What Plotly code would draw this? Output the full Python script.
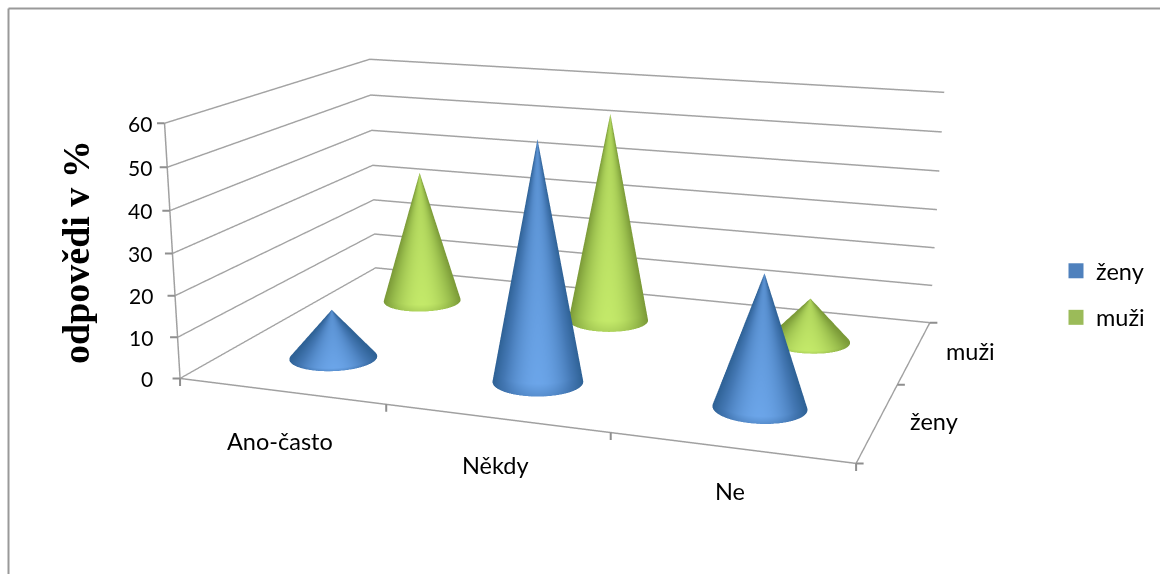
import numpy as np
import plotly.graph_objects as go

W, H = 1160, 574

categories = ["Ano-často", "Někdy", "Ne"]
series_names = ["ženy", "muži"]
zeny = [12, 57, 31]
muzi = [35, 54, 11]
z_ticks = [0, 10, 20, 30, 40, 50, 60]

# Scene camera and box proportions
EYE = np.array([0.8448, -2.4323, 0.6375])
CENTER = [0.0241, -0.0481, -0.0747]
UP = [-0.0240, 0.0545, 1.0]
ASPECT = np.array([1.0, 0.6633, 0.3801])
FOVY = 0.3273

BLUE = [[0, "#2f6296"], [.4, "#4478b4"], [1, "#6ca6ea"]]
GREEN = [[0, "#7b9a38"], [.4, "#98bc4c"], [1, "#c4ea6a"]]
GRID = "#a3a3a3"
TICK = "#8f8f8f"


def cone_trace(cx, cy, value, rx, ry, colors):
    th = np.linspace(0, 2 * np.pi, 181)
    t = np.linspace(0, 1, 41)
    T, Q = np.meshgrid(t, th, indexing="ij")
    X = cx + rx * (1 - T) * np.cos(Q)
    Y = cy + ry * (1 - T) * np.sin(Q)
    Z = value * T
    # shade by how directly each facet faces the viewer, dimmer at the rim and near the tip
    centre = (np.array([cx, cy, 0]) / np.array([3, 2, 60]) - .5) * ASPECT
    az = np.arctan2((EYE - centre)[1] / ASPECT[1] * 2, (EYE - centre)[0] / ASPECT[0] * 3)
    shade = np.clip(np.cos(Q - az), 0, 1) ** 2
    shade = shade * (0.7 + 0.3 * np.clip(T / 0.05, 0, 1)) * (1 - 0.3 * T)
    return go.Surface(x=X, y=Y, z=Z, surfacecolor=shade, cmin=0, cmax=1, colorscale=colors, showscale=False,
                      hoverinfo="skip", lighting=dict(ambient=1, diffuse=0, specular=0, fresnel=0, roughness=1))


fig = go.Figure()
for i in range(3):
    fig.add_trace(cone_trace(i + .5, 1.5, muzi[i], .195, .2, GREEN))
for i in range(3):
    fig.add_trace(cone_trace(i + .5, .5, zeny[i], .2, .2, BLUE))
for name, col in zip(series_names, ["#4f81bd", "#9bbb59"]):
    fig.add_trace(go.Scatter(x=[None], y=[None], mode="markers", name=name, legendgroup=name,
                             marker=dict(symbol="square", size=15, color=col)))

LABEL = dict(family="Lato", size=23.5, color="black")
DIGIT = dict(family="Lato", size=21, color="black")


def tick(x, y, z, ax, ay):
    return dict(x=x, y=y, z=z, text="", showarrow=True, arrowhead=0, arrowwidth=2, arrowcolor=TICK,
                ax=ax, ay=ay, standoff=0)


notes = []
for v in z_ticks:
    notes.append(dict(x=0, y=0, z=v, text=str(v), showarrow=False, xanchor="right",
                      xshift=-25 + v * 14 / 60, font=DIGIT))
    notes.append(tick(0, 0, v, -9, 0))
for i, label in enumerate(categories):
    notes.append(dict(x=i + .5, y=0, z=0, text=label, showarrow=False, xshift=-1, yshift=-50 + 3.5 * i, font=LABEL))
for i, label in enumerate(series_names):
    notes.append(dict(x=3, y=i + .5, z=0, text=label, showarrow=False, xshift=56, yshift=1, font=LABEL))
for i in range(4):
    notes.append(tick(i, 0, 0, 0, 9))
for i in range(3):
    notes.append(tick(3, i, 0, 9, 0))

axis_common = dict(showbackground=False, title="", showticklabels=False, ticks="", showline=True,
                   linecolor="#a0a0a0", linewidth=3, zeroline=False, showspikes=False)
fig.update_layout(
    width=W, height=H, margin=dict(l=0, r=0, t=0, b=0), paper_bgcolor="white", plot_bgcolor="white",
    xaxis=dict(visible=False), yaxis=dict(visible=False),
    legend=dict(x=1056 / W, y=1 - 249 / H, xanchor="left", yanchor="top",
                font=dict(family="Lato", size=23.5, color="black"),
                tracegroupgap=13, bgcolor="rgba(0,0,0,0)"),
    scene=dict(
        domain=dict(x=[0, 1], y=[0, 1]),
        aspectmode="manual", aspectratio=dict(x=ASPECT[0], y=ASPECT[1], z=ASPECT[2]),
        camera=dict(eye=dict(x=EYE[0], y=EYE[1], z=EYE[2]),
                    center=dict(x=CENTER[0], y=CENTER[1], z=CENTER[2]),
                    up=dict(x=UP[0], y=UP[1], z=UP[2])),
        xaxis=dict(range=[0, 3], showgrid=False, tickvals=[0, 1, 2, 3], **axis_common),
        yaxis=dict(range=[0, 2], showgrid=False, tickvals=[0, 1, 2], **axis_common),
        zaxis=dict(range=[0, 60], tickvals=z_ticks, showgrid=True, gridcolor=GRID, gridwidth=3, **axis_common),
        annotations=notes,
    ),
    shapes=[
        dict(type="line", xref="paper", yref="paper", x0=8.5 / W, x1=8.5 / W, y0=0, y1=1 - 8.5 / H,
             line=dict(color="#999999", width=2)),
        dict(type="line", xref="paper", yref="paper", x0=8.5 / W, x1=1, y0=1 - 8.5 / H, y1=1 - 8.5 / H,
             line=dict(color="#999999", width=2)),
    ],
    annotations=[
        dict(x=76 / W, y=1 - 252 / H, xref="paper", yref="paper", text="<b>odpovědi v %</b>", textangle=-90,
             showarrow=False, xanchor="center", yanchor="middle",
             font=dict(family="Liberation Serif", size=38, color="black")),
    ],
)
# Narrow the scene's field of view once the WebGL plot exists
fig.write_html("out.html", post_script=(
    "var s=document.getElementById('{plot_id}')._fullLayout.scene._scene;"
    "s.glplot.fovy=%f;s.glplot.redraw();" % FOVY))
